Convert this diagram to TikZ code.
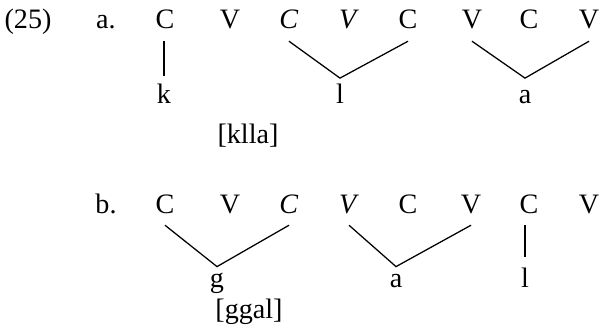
\documentclass[tikz,border=0pt]{standalone}
\usepackage{fontspec}
\setmainfont{Liberation Serif}
\begin{document}
\begin{tikzpicture}[x=0.025cm,y=-0.025cm,
  lab/.style={font=\fontsize{20}{24}\selectfont, anchor=base, inner sep=0pt},
  seg/.style={font=\fontsize{20}{24}\selectfont, anchor=base, inner xsep=0pt, inner ysep=3.5pt, text height=14pt, text depth=5pt},
  segb/.style={seg, inner ysep=0.3pt},
  link/.style={line width=0.9pt}]
\useasboundingbox (0,0) rectangle (600,335);
% labels
\node[lab] (n25) at (28,29) {(25)};
\node[lab] (la) at (106,29) {a.};
\node[lab] (klla) at (248,143) {[klla]};
\node[lab] (lb) at (106,213) {b.};
\node[lab] (ggal) at (249,318) {[ggal]};
% row a skeleton
\node[seg] (a1) at (165,29) {C};
\node[seg] (a2) at (230,29) {V};
\node[seg] (a3) at (289,29) {\textit{C}};
\node[seg] (a4) at (349,29) {\textit{V}};
\node[seg] (a5) at (408,29) {C};
\node[seg] (a6) at (472,29) {V};
\node[seg] (a7) at (529,29) {C};
\node[seg] (a8) at (589,29) {V};
% row a melody
\node[seg] (ak) at (164,103) {k};
\node[seg] (al) at (340,103) {l};
\node[seg] (aa) at (525,103) {a};
% row b skeleton
\node[seg] (b1) at (165,213) {C};
\node[seg] (b2) at (230,213) {V};
\node[seg] (b3) at (289,213) {\textit{C}};
\node[seg] (b4) at (349,213) {\textit{V}};
\node[seg] (b5) at (408,213) {C};
\node[seg] (b6) at (471,213) {V};
\node[seg] (b7) at (529,213) {C};
\node[seg] (b8) at (589,213) {V};
% row b melody
\node[segb] (bg) at (217,287) {g};
\node[segb] (ba) at (396,287) {a};
\node[segb] (bl) at (525,287) {l};
% links row a
\draw[link, shorten >=1.5pt] (ak.north |- a1.south) -- (ak.north);
\draw[link] (a3.south) -- (al.north) -- (a5.south);
\draw[link] (a6.south) -- (aa.north) -- (a8.south);
% links row b
\draw[link, shorten >=7pt] (bl.north |- b7.south) -- (bl.north);
\draw[link] (b1.south) -- (bg.north) -- (b3.south);
\draw[link] (b4.south) -- (ba.north) -- (b6.south);
\end{tikzpicture}
\end{document}
